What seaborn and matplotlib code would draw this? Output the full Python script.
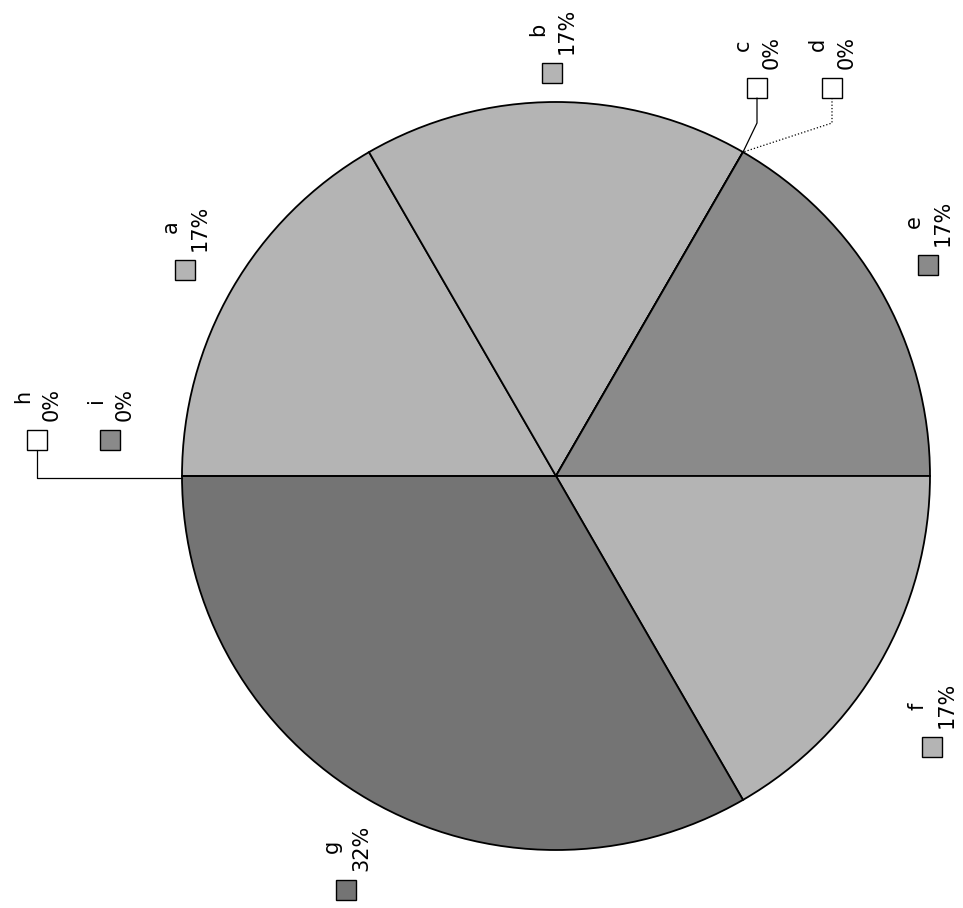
import matplotlib
matplotlib.use("Agg")
import matplotlib.pyplot as plt
from matplotlib.patches import Rectangle
import numpy as np
import seaborn as sns

sns.set_style('white')
plt.rcParams['font.family'] = ['DejaVu Sans']

# data
categories = ['a', 'b', 'c', 'd', 'e', 'f', 'g', 'h', 'i']
values = [1, 1, 0, 0, 1, 1, 2, 0, 0]
pct_labels = ['17%', '17%', '0%', '0%', '17%', '17%', '32%', '0%', '0%']

# styles
light = '#b4b4b4'
dark = '#8a8a8a'
darker = '#747474'
slice_colors = [light, light, 'white', 'white', dark, light, darker, 'white', dark]

W, H = 963, 908
cx, cy, R = 556, 476, 374  # pie centre / radius in image pixels

# label key positions (image pixels, centre of the little square)
key_pos = {'a': (185, 270), 'b': (552, 73), 'c': (757, 88), 'd': (832, 88),
           'e': (928, 265), 'f': (932, 747), 'g': (346, 890),
           'h': (37, 440), 'i': (110, 440)}
leaders = {'c': '-', 'd': ':', 'h': '-'}


def px(x, y):
    return x, H - y


fig = plt.figure(figsize=(W / 100, H / 100), dpi=100)
ax = fig.add_axes([0, 0, 1, 1])

ax.pie(values, colors=slice_colors, startangle=180, counterclock=False,
       center=px(cx, cy), radius=R,
       wedgeprops=dict(edgecolor='black', linewidth=1.3))
ax.set_xlim(0, W)
ax.set_ylim(0, H)
ax.set_aspect('equal')
ax.axis('off')

total = sum(values)
cum = np.concatenate([[0], np.cumsum(values)])
sq = 20
for i, cat in enumerate(categories):
    sx, sy = key_pos[cat]
    ax.add_patch(Rectangle(px(sx - sq / 2, sy + sq / 2), sq, sq,
                           facecolor=slice_colors[i], edgecolor='black', lw=1))
    ax.text(*px(sx - 14, sy - 37), cat, rotation=90, ha='center', va='bottom',
            fontsize=15, color='black')
    ax.text(*px(sx + 15, sy - 19), pct_labels[i], rotation=90, ha='center',
            va='bottom', fontsize=15, color='black')
    if cat in leaders:
        ang = np.deg2rad(180 - 360 * cum[i] / total)
        ex, ey = cx + R * np.cos(ang), cy - R * np.sin(ang)
        if cat == 'h':
            xs = [sx, sx, ex]
            ys = [sy + sq / 2, ey + 2, ey + 2]
        else:
            xs = [sx, sx, ex]
            ys = [sy + sq / 2, sy + 35, ey]
        ax.plot(xs, [H - y for y in ys], color='black', lw=0.9,
                linestyle=leaders[cat])

fig.savefig('out.png', dpi=100)
